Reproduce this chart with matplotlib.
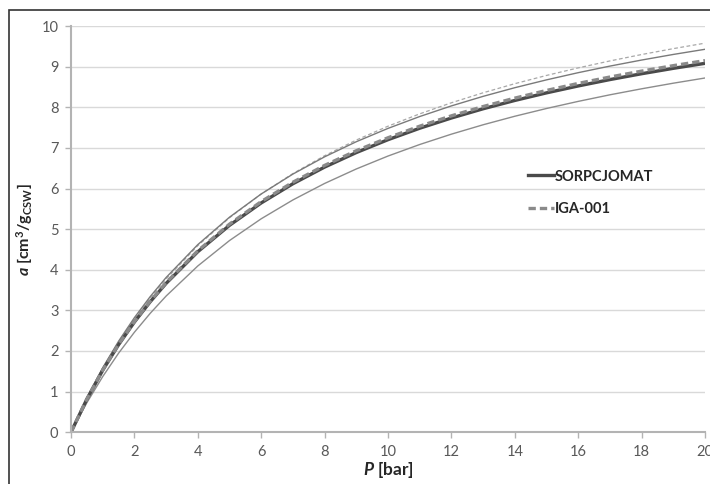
import matplotlib
matplotlib.use("Agg")
import matplotlib.pyplot as plt
from matplotlib.patches import Rectangle

# pressure points [bar]
p_bar = [0, 0.5, 1, 1.5, 2, 2.5, 3, 4, 5, 6, 7, 8, 9, 10,
         11, 12, 13, 14, 15, 16, 17, 18, 19, 20]

# sorption capacity [cm3/g]
sorpcjomat = [0, 0.813, 1.525, 2.154, 2.713, 3.214, 3.665, 4.445, 5.095, 5.646,
              6.119, 6.529, 6.887, 7.204, 7.486, 7.738, 7.965, 8.170, 8.357,
              8.527, 8.684, 8.828, 8.961, 9.084]
iga_001 = [0, 0.816, 1.531, 2.163, 2.725, 3.229, 3.683, 4.468, 5.124, 5.679,
           6.156, 6.570, 6.932, 7.251, 7.536, 7.791, 8.020, 8.227, 8.416,
           8.589, 8.747, 8.892, 9.027, 9.151]
# error band limits
sorp_upper = [0, 0.845, 1.586, 2.239, 2.821, 3.341, 3.810, 4.620, 5.295, 5.867,
              6.357, 6.782, 7.154, 7.482, 7.774, 8.036, 8.271, 8.484, 8.677,
              8.854, 9.016, 9.165, 9.303, 9.430]
sorp_lower = [0, 0.726, 1.369, 1.945, 2.462, 2.929, 3.353, 4.094, 4.720, 5.256,
              5.720, 6.126, 6.483, 6.801, 7.085, 7.340, 7.571, 7.781, 7.972,
              8.147, 8.309, 8.457, 8.595, 8.723]
iga_upper = [0, 0.827, 1.556, 2.204, 2.783, 3.304, 3.775, 4.594, 5.281, 5.866,
             6.370, 6.809, 7.195, 7.536, 7.840, 8.113, 8.359, 8.583, 8.786,
             8.972, 9.143, 9.301, 9.446, 9.581]

x_ticks = list(range(0, 21, 2))
y_ticks = list(range(0, 11))

plt.rcParams["font.family"] = ["Lato", "DejaVu Sans"]
plt.rcParams["mathtext.fontset"] = "custom"
plt.rcParams["mathtext.rm"] = "Lato:bold"
plt.rcParams["mathtext.it"] = "Lato:italic:bold"
plt.rcParams["mathtext.bf"] = "Lato:bold"

fig = plt.figure(figsize=(7.1, 4.84), dpi=100)
ax = fig.add_axes([0.1, 0.107, 0.893, 0.839])

# thin band lines first, main series on top
ax.plot(p_bar, iga_upper, color="#a8a8a8", lw=0.9, ls=(0, (3, 2)))
ax.plot(p_bar, sorp_upper, color="#7a7a7a", lw=1.0)
ax.plot(p_bar, sorp_lower, color="#8c8c8c", lw=1.0)
ax.plot(p_bar, sorpcjomat, color="#4a4a4a", lw=2.4, label="SORPCJOMAT")
ax.plot(p_bar, iga_001, color="#8a8a8a", lw=2.4, ls=(0, (2.2, 1.2)), label="IGA-001")

ax.set_xlim(0, 20)
ax.set_ylim(0, 10)
ax.set_xticks(x_ticks)
ax.set_yticks(y_ticks)
ax.grid(axis="y", color="#d9d9d9", lw=1.0)
ax.set_axisbelow(True)

for side in ["top", "right"]:
    ax.spines[side].set_visible(False)
for side in ["left", "bottom"]:
    ax.spines[side].set_color("#b3b3b3")
    ax.spines[side].set_linewidth(1.5)
ax.tick_params(axis="both", direction="out", length=4, width=1.0, color="#b3b3b3",
               labelcolor="#595959", labelsize=10.5, pad=5)

ax.set_xlabel(r"$P$ [bar]", fontsize=12.5, fontweight="bold", color="#262626", labelpad=1)
ax.set_ylabel(r"$a$ [cm$^3$/g$_{\mathrm{CSW}}$]", fontsize=11.5, fontweight="bold",
              color="#262626", labelpad=5)

leg = ax.legend(loc="center left", bbox_to_anchor=(0.70, 0.59), frameon=False,
                handlelength=1.8, handletextpad=0.05, labelspacing=1.25,
                prop={"weight": "bold", "size": 10.5})
for t in leg.get_texts():
    t.set_color("#262626")

# outer frame around the chart area
fig.patches.append(Rectangle((9 / 710, -0.1), 1.2, 1.1 - 10 / 484, transform=fig.transFigure,
                             fill=False, edgecolor="#333333", lw=1.2))

fig.savefig("out.png", dpi=100)
